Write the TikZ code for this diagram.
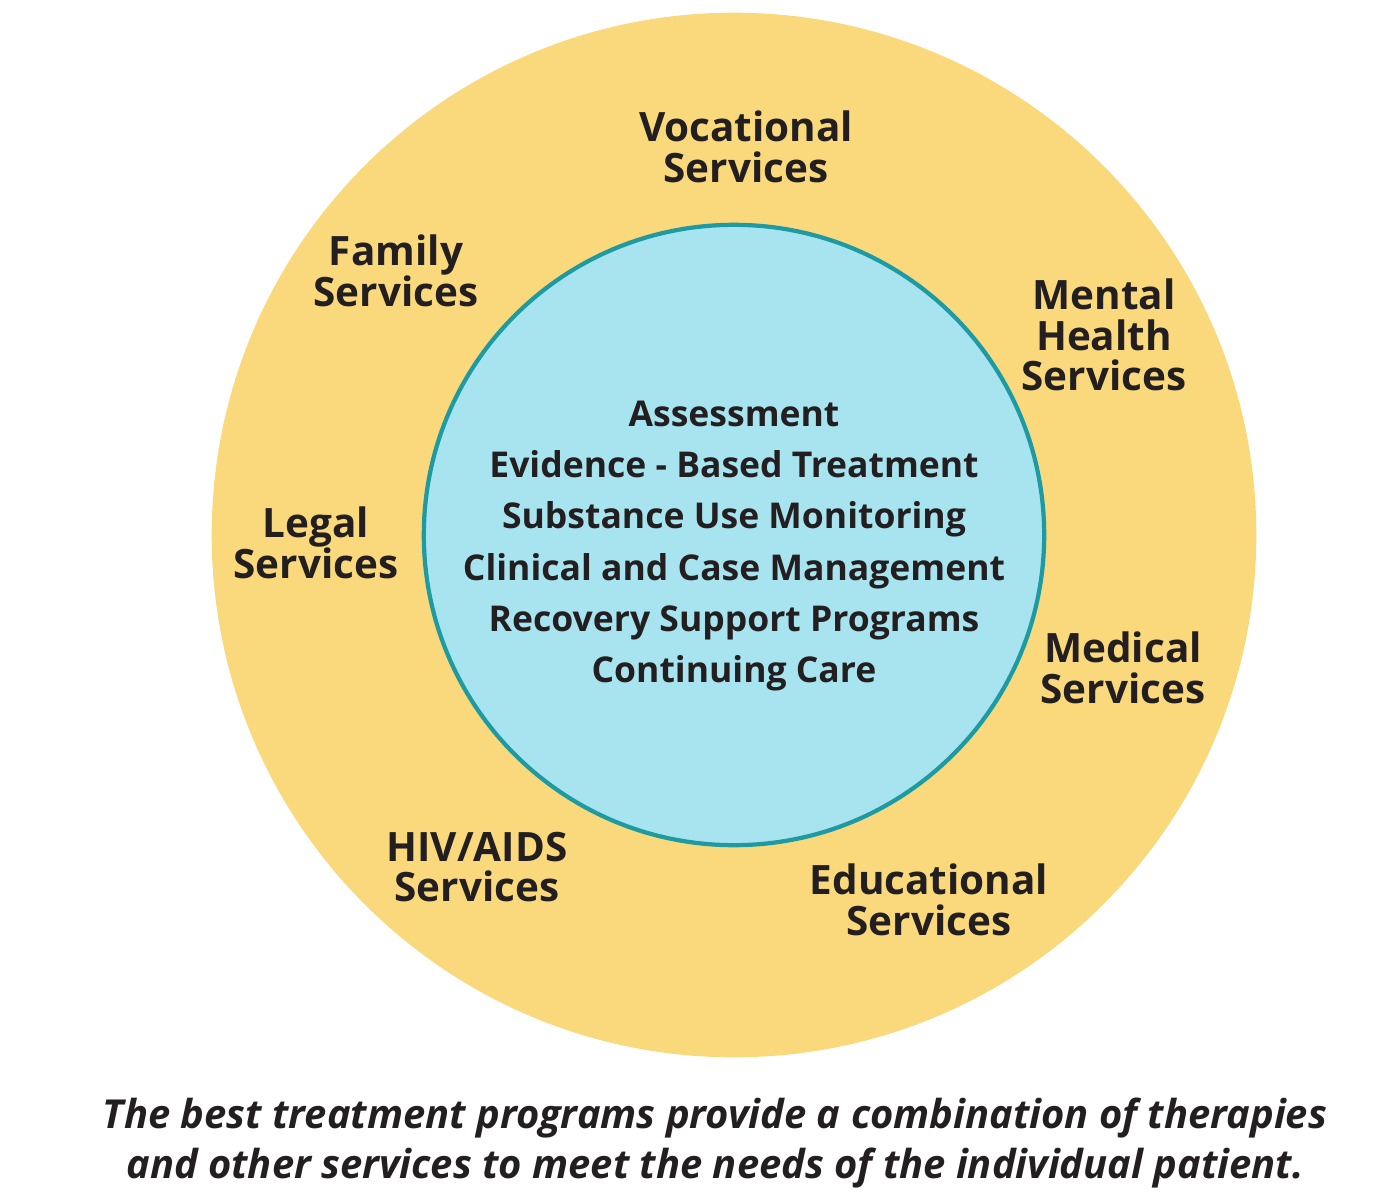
\documentclass[tikz,border=0pt]{standalone}
\usepackage{fontspec}
\setmainfont{Open Sans}
\usepackage{tikz}

\definecolor{ringyellow}{HTML}{F9D97C}
\definecolor{corecyan}{HTML}{A8E4EF}
\definecolor{coreedge}{HTML}{1E9AA2}
\definecolor{inkdark}{HTML}{231F20}

\tikzset{
  service/.style={align=center, text=inkdark, font=\fontsize{11.5}{11.6}\selectfont\bfseries},
  core/.style={align=center, text=inkdark, font=\fontsize{10.1}{14.6}\selectfont\bfseries},
  caption/.style={align=center, text=inkdark, font=\fontsize{11.35}{14.2}\selectfont\bfseries\itshape}
}

\begin{document}
\begin{tikzpicture}[x=0.01cm, y=-0.01cm]
    \useasboundingbox (0, 0) rectangle (1388, 1200);
    % rings
    \node [circle, fill=ringyellow, minimum size=10.44cm, inner sep=0pt] (ring) at (734, 535) {};
    \node [circle, fill=corecyan, draw=coreedge, line width=1.2pt, minimum size=6.2cm, inner sep=0pt] (core) at (734, 535) {};
    % core services
    \node [core] (coretext) at (734, 546) {Assessment\\ Evidence - Based Treatment\\ Substance Use Monitoring\\ Clinical and Case Management\\ Recovery Support Programs\\ Continuing Care};
    % outer services
    \node [service] (vocational) at (746, 147) {Vocational\\ Services};
    \node [service] (family)     at (396, 271) {Family\\ Services};
    \node [service] (mental)     at (1104, 335) {Mental\\ Health\\ Services};
    \node [service] (legal)      at (316, 543) {Legal\\ Services};
    \node [service] (medical)    at (1123, 668) {Medical\\ Services};
    \node [service] (hiv)        at (477, 867) {HIV/AIDS\\ Services};
    \node [service] (educ)       at (929, 900) {Educational\\ Services};
    % caption
    \node [caption] (note) at (715, 1143) {The best treatment programs provide a combination of therapies\\ and other services to meet the needs of the individual patient.};
  \end{tikzpicture}
\end{document}
